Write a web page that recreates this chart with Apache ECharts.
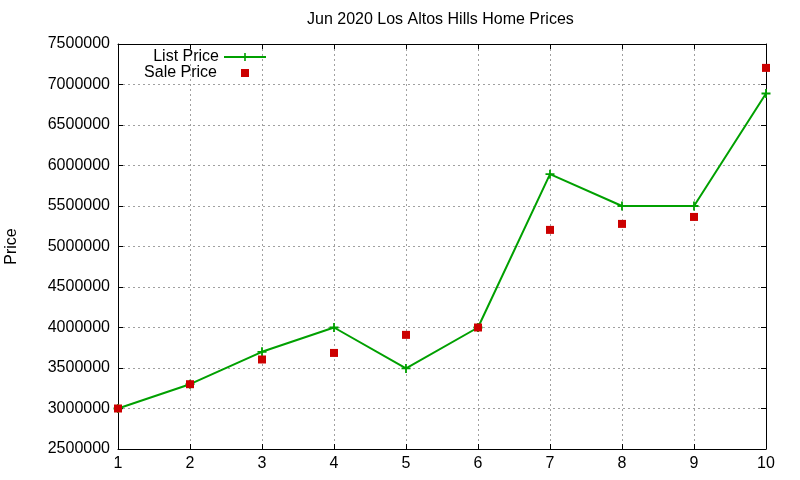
<!DOCTYPE html>
<html>
<head>
<meta charset="utf-8">
<script src="https://cdn.jsdelivr.net/npm/echarts@6/dist/echarts.min.js"></script>
<style>
  html, body { margin: 0; padding: 0; background: #fff; }
  #chart { width: 800px; height: 480px; }
</style>
</head>
<body>
<div id="chart"></div>
<script>
// data
const months = [1, 2, 3, 4, 5, 6, 7, 8, 9, 10];
const listPrice = [3000000, 3300000, 3700000, 4000000, 3495000, 4000000, 5893000, 5500000, 5500000, 6889000];
const salePrice = [3000000, 3300000, 3605000, 3686000, 3909000, 4000000, 5205000, 5279000, 5365000, 7205000];

const FONT = 'Liberation Sans, Arial, sans-serif';
const crossPath = 'path://M4,0H6V4H10V6H6V10H4V6H0V4H4Z';

const chart = echarts.init(document.getElementById('chart'));

const gridLine = { show: true, lineStyle: { color: '#a0a0a0', type: [2, 3], width: 1 } };
const frameLine = { show: true, onZero: false, lineStyle: { color: '#000', width: 1 } };
const innerTick = { show: true, inside: true, length: 5, lineStyle: { color: '#000' } };

chart.setOption({
    backgroundColor: '#fff',
    animation: false,
    textStyle: { fontFamily: FONT },
    title: {
        text: 'Jun 2020 Los Altos Hills Home Prices',
        left: 307, top: 12, padding: 0,
        textStyle: { fontSize: 16, fontWeight: 'normal', color: '#000', fontFamily: FONT }
    },
    legend: [
        {
            data: [{ name: 'List Price' }],
            right: 533, top: 49, padding: 0, align: 'right', itemWidth: 42, itemHeight: 10,
            textStyle: { fontSize: 16, color: '#000', fontFamily: FONT }
        },
        {
            data: [{ name: 'Sale Price', icon: 'rect' }],
            right: 551, top: 65, padding: 0, align: 'right', itemWidth: 8, itemHeight: 8,
            textStyle: { fontSize: 16, color: '#000', fontFamily: FONT, padding: [0, 19, 0, 0] }
        }
    ],
    grid: { left: 118, right: 34, top: 44, bottom: 31, containLabel: false, outerBoundsMode: 'none' },
    xAxis: [
        {
            type: 'value', min: 1, max: 10, interval: 1,
            axisLine: frameLine, axisTick: innerTick, splitLine: gridLine,
            axisLabel: { color: '#000', fontSize: 16, margin: 7, fontFamily: FONT }
        },
        {
            type: 'value', position: 'top', min: 1, max: 10, interval: 1,
            axisLine: frameLine, axisTick: innerTick, splitLine: { show: false },
            axisLabel: { show: false }
        }
    ],
    yAxis: [
        {
            type: 'value', min: 2500000, max: 7500000, interval: 500000,
            name: 'Price', nameLocation: 'middle', nameGap: 98, nameRotate: 90,
            nameTextStyle: { color: '#000', fontSize: 16, fontFamily: FONT },
            axisLine: frameLine, axisTick: innerTick, splitLine: gridLine,
            axisLabel: { color: '#000', fontSize: 16, margin: 8, fontFamily: FONT, formatter: v => String(v) }
        },
        {
            type: 'value', position: 'right', min: 2500000, max: 7500000, interval: 500000,
            axisLine: frameLine, axisTick: innerTick, splitLine: { show: false },
            axisLabel: { show: false }
        }
    ],
    series: [
        {
            name: 'List Price',
            type: 'line',
            data: months.map((m, i) => [m, listPrice[i]]),
            symbol: crossPath,
            symbolSize: 9,
            showAllSymbol: true,
            lineStyle: { color: '#00a000', width: 2 },
            itemStyle: { color: '#00a000' },
            z: 3
        },
        {
            name: 'Sale Price',
            type: 'scatter',
            data: months.map((m, i) => [m, salePrice[i]]),
            symbol: 'rect',
            symbolSize: 8,
            itemStyle: { color: '#cc0000', opacity: 1 },
            z: 4
        }
    ]
});
</script>
</body>
</html>
